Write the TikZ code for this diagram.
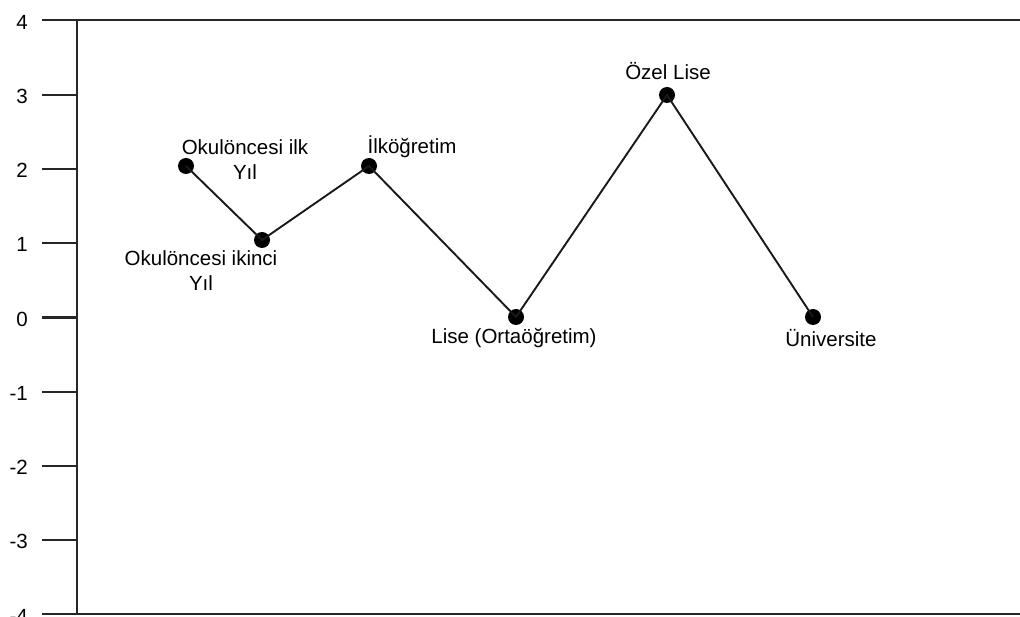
\documentclass[tikz,border=0pt]{standalone}
\usepackage{fontspec}
\setmainfont{Liberation Sans}
\begin{document}
\begin{tikzpicture}[x=1pt,y=-1pt,
  axis/.style={line width=2.4pt,draw=black!85},
  conn/.style={line width=1.9pt,draw=black!90},
  dot/.style={circle,fill=black,inner sep=0pt,minimum size=16pt},
  lbl/.style={font=\fontsize{20.5}{25}\selectfont,align=center,inner sep=0pt},
  tick/.style={font=\fontsize{20.5}{25}\selectfont,anchor=east,inner sep=0pt}]
\useasboundingbox (0,0) rectangle (1020,617);
% axes
\coordinate (tl) at (42,20);
\coordinate (tr) at (1020,20);
\coordinate (bl) at (42,614);
\coordinate (br) at (1020,614);
\coordinate (at) at (77,20);
\coordinate (ab) at (77,614);
\draw[axis] (tl) -- (tr);
\draw[axis] (bl) -- (br);
\draw[axis] (at) -- (ab);
\foreach \v in {3,2,1,0,-1,-2,-3} {
  \coordinate (t\v) at (42,{317.5-74.25*\v});
  \coordinate (u\v) at (77,{317.5-74.25*\v});
  \draw[axis] (t\v) -- (u\v);
}
\foreach \v in {4,3,2,1,0,-1,-2,-3,-4} {
  \node[tick] (n\v) at (28,{319-74.25*\v}) {\v};
}
% points
\node[dot] (p1) at (186,166) {};
\node[dot] (p2) at (262,240) {};
\node[dot] (p3) at (369,166) {};
\node[dot] (p4) at (516,317) {};
\node[dot] (p5) at (667,95) {};
\node[dot] (p6) at (813,317) {};
\draw[conn] (p1.center) -- (p2.center) -- (p3.center) -- (p4.center) -- (p5.center) -- (p6.center);
% labels
\node[lbl] (l1) at (245,160) {Okulöncesi ilk\\Yıl};
\node[lbl] (l2) at (201,271) {Okulöncesi ikinci\\Yıl};
\node[lbl] (l3) at (412,147) {İlköğretim};
\node[lbl] (l4) at (514,338) {Lise (Ortaöğretim)};
\node[lbl] (l5) at (668,71) {Özel Lise};
\node[lbl] (l6) at (831,338) {Üniversite};
\end{tikzpicture}
\end{document}
